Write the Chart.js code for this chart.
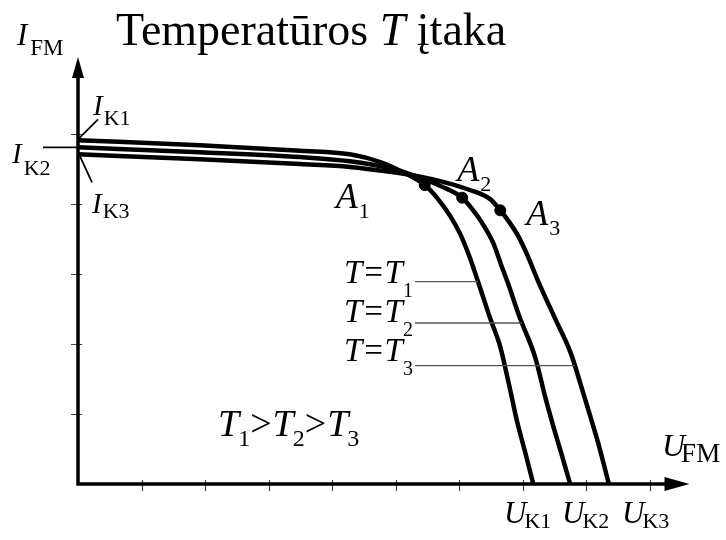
<!DOCTYPE html>
<html>
<head>
<meta charset="utf-8">
<script src="https://cdn.jsdelivr.net/npm/chart.js@4.4.1/dist/chart.umd.min.js"></script>
<style>
  html, body { margin: 0; padding: 0; background: #fff; }
  #wrap { width: 726px; height: 540px; }
</style>
</head>
<body>
<div id="wrap"><canvas id="ivChart"></canvas></div>
<script>
// I-V curves of a PV module at three temperatures, T1 > T2 > T3

const voltageT1 = [0, 1.92, 3.50, 4.28, 4.76, 5.15, 5.46, 5.67, 5.86, 6.02, 6.16, 6.30, 6.49, 6.65, 6.79, 6.91, 7.04, 7.17];
const currentT1 = [4.91, 4.84, 4.76, 4.71, 4.60, 4.44, 4.27, 4.07, 3.83, 3.57, 3.26, 2.89, 2.37, 1.96, 1.41, 0.91, 0.46, 0];

const voltageT2 = [0, 1.92, 3.50, 4.28, 4.91, 5.31, 5.70, 6.05, 6.24, 6.39, 6.54, 6.66, 6.77, 6.96, 7.20, 7.35, 7.48, 7.61, 7.75];
const currentT2 = [4.81, 4.74, 4.67, 4.61, 4.51, 4.40, 4.26, 4.09, 3.89, 3.69, 3.44, 3.14, 2.87, 2.37, 1.81, 1.27, 0.84, 0.44, 0];

const voltageT3 = [0, 1.92, 3.50, 4.28, 4.91, 5.39, 5.78, 6.17, 6.49, 6.65, 6.80, 6.94, 7.09, 7.24, 7.51, 7.76, 7.92, 8.06, 8.20, 8.36];
const currentT3 = [4.71, 4.64, 4.57, 4.53, 4.46, 4.39, 4.31, 4.20, 4.07, 3.91, 3.73, 3.53, 3.24, 2.91, 2.37, 1.87, 1.41, 0.99, 0.56, 0];

// maximum power points A1..A3
const mppVoltage = [5.46, 6.05, 6.65];
const mppCurrent = [4.27, 4.09, 3.91];
const mppNames = ['1', '2', '3'];

// current levels where the T=T_n leaders meet the curves
const leaderCurrent = [2.89, 2.30, 1.69];

const xTicks = [1, 2, 3, 4, 5, 6, 7, 8, 9];
const yTicks = [1, 2, 3, 4, 5];

const toPoints = (xs, ys) => xs.map((v, i) => ({ x: v, y: ys[i] }));
const curves = [toPoints(voltageT1, currentT1), toPoints(voltageT2, currentT2), toPoints(voltageT3, currentT3)];

const SERIF = '"Liberation Serif", "Times New Roman", serif';

// x on a curve at a given current (linear between samples)
function voltageAt(pts, cur) {
    for (let i = 1; i < pts.length; i++) {
        const a = pts[i - 1], b = pts[i];
        if ((a.y - cur) * (b.y - cur) <= 0 && a.y !== b.y) {
            return a.x + (cur - a.y) / (b.y - a.y) * (b.x - a.x);
        }
    }
    return pts[pts.length - 1].x;
}

// italic symbol followed by an upright subscript
function symbol(ctx, main, sub, x, y, size, subSize, drop, gap) {
    ctx.font = `italic ${size}px ${SERIF}`;
    ctx.fillText(main, x, y);
    const w = ctx.measureText(main).width;
    ctx.font = `${subSize}px ${SERIF}`;
    ctx.fillText(sub, x + w + gap, y + drop);
    return x + w + gap + ctx.measureText(sub).width;
}

const axesPlugin = {
    id: 'axes',
    beforeDatasetsDraw(chart) {
        const { ctx, scales: { x, y } } = chart;
        const x0 = x.getPixelForValue(0), y0 = y.getPixelForValue(0);
        const tipY = y.getPixelForValue(6.1), tipX = x.getPixelForValue(9.63);
        ctx.save();
        ctx.fillStyle = '#000';

        // tick marks
        ctx.lineWidth = 1.2;
        ctx.strokeStyle = '#444';
        ctx.beginPath();
        xTicks.forEach(t => {
            const px = Math.round(x.getPixelForValue(t)) + 0.5;
            ctx.moveTo(px, y0 - 4); ctx.lineTo(px, y0 + 7);
        });
        yTicks.forEach(t => {
            const py = Math.round(y.getPixelForValue(t)) + 0.5;
            ctx.moveTo(x0 - 7, py); ctx.lineTo(x0 + 4, py);
        });
        ctx.stroke();

        // axis lines
        ctx.strokeStyle = '#000';
        ctx.lineWidth = 3.5;
        ctx.beginPath();
        ctx.moveTo(x0, tipY + 18); ctx.lineTo(x0, y0);
        ctx.lineTo(tipX - 22, y0);
        ctx.stroke();

        // arrow heads
        ctx.beginPath();
        ctx.moveTo(x0, tipY); ctx.lineTo(x0 - 6, tipY + 21); ctx.lineTo(x0 + 6, tipY + 21); ctx.closePath();
        ctx.moveTo(tipX, y0); ctx.lineTo(tipX - 25, y0 - 7); ctx.lineTo(tipX - 25, y0 + 7); ctx.closePath();
        ctx.fill();
        ctx.restore();
    },
    afterDatasetsDraw(chart) {
        const { ctx, scales: { x, y } } = chart;
        const x0 = x.getPixelForValue(0);
        ctx.save();
        ctx.fillStyle = '#000';
        ctx.strokeStyle = '#000';
        ctx.textBaseline = 'alphabetic';

        // title
        ctx.font = `46px ${SERIF}`;
        let tx = 116;
        ctx.fillText('Temperatūros ', tx, 45);
        tx += ctx.measureText('Temperatūros ').width;
        ctx.font = `italic 46px ${SERIF}`;
        ctx.fillText('T', tx, 45);
        tx += ctx.measureText('T').width;
        ctx.font = `46px ${SERIF}`;
        ctx.fillText(' įtaka', tx, 45);

        // axis names
        symbol(ctx, 'I', 'FM', 17, 45, 31, 23, 10, 3);
        symbol(ctx, 'U', 'FM', 662, 456, 32, 27, 6, -4);

        // short-circuit currents with their pointers
        const iK = curves.map(c => y.getPixelForValue(c[0].y));
        ctx.lineWidth = 1.8;
        ctx.beginPath();
        ctx.moveTo(x0 + 1, iK[0] - 2); ctx.lineTo(x0 + 20, iK[0] - 21);
        ctx.moveTo(43, iK[1]); ctx.lineTo(x0, iK[1]);
        ctx.moveTo(x0 + 2, iK[2] + 2); ctx.lineTo(x0 + 14, iK[2] + 28);
        ctx.stroke();
        symbol(ctx, 'I', 'K1', 93, 115, 29, 22, 10, 1);
        symbol(ctx, 'I', 'K2', 12, 163, 29, 22, 12, 2);
        symbol(ctx, 'I', 'K3', 92, 213, 29, 22, 5, 1);

        // open-circuit voltages
        symbol(ctx, 'U', 'K1', 504, 523, 31, 22, 5, -2);
        symbol(ctx, 'U', 'K2', 562, 523, 31, 22, 5, -2);
        symbol(ctx, 'U', 'K3', 622, 523, 31, 22, 5, -2);

        // maximum power point labels
        const offs = [[-89, 23], [-5, -17], [26, 15]];
        mppVoltage.forEach((v, i) => {
            const px = x.getPixelForValue(v), py = y.getPixelForValue(mppCurrent[i]);
            symbol(ctx, 'A', mppNames[i], px + offs[i][0], py + offs[i][1], 36, 22, 10, 1);
        });

        // T = T_n labels and leaders to each curve
        const rows = [283, 322, 361];
        rows.forEach((base, i) => {
            const end = symbol(ctx, 'T=T', String(i + 1), 344, base, 33, 20, 14, 0);
            const ly = y.getPixelForValue(leaderCurrent[i]);
            const lx = x.getPixelForValue(voltageAt(curves[i], leaderCurrent[i]));
            ctx.strokeStyle = '#555';
            ctx.lineWidth = 1.3;
            ctx.beginPath();
            ctx.moveTo(end + 2, ly); ctx.lineTo(lx, ly);
            ctx.stroke();
        });

        // ordering of temperatures
        let ox = 218;
        ['1', '2', '3'].forEach((n, i) => {
            ox = symbol(ctx, 'T', n, ox, 436, 38, 24, 10, -1);
            if (i < 2) {
                ctx.font = `38px ${SERIF}`;
                ctx.fillText('>', ox, 436);
                ox += ctx.measureText('>').width + 1;
            }
        });
        ctx.restore();
    }
};

const lineSet = (data) => ({
    type: 'line',
    data,
    borderColor: '#000',
    borderWidth: 4.5,
    pointRadius: 0,
    cubicInterpolationMode: 'monotone',
    fill: false,
    clip: false
});

new Chart(document.getElementById('ivChart'), {
    type: 'scatter',
    data: {
        datasets: [
            lineSet(curves[0]),
            lineSet(curves[1]),
            lineSet(curves[2]),
            {
                type: 'scatter',
                data: toPoints(mppVoltage, mppCurrent),
                pointRadius: 5.5,
                pointBackgroundColor: '#000',
                pointBorderColor: '#000',
                clip: false
            }
        ]
    },
    options: {
        responsive: true,
        maintainAspectRatio: false,
        animation: false,
        layout: { padding: { left: 78, right: 38.4, top: 64, bottom: 56 } },
        scales: {
            x: { type: 'linear', min: 0, max: 9.6, display: false },
            y: { type: 'linear', min: 0, max: 6, display: false }
        },
        plugins: {
            legend: { display: false },
            tooltip: { enabled: false },
            title: { display: false }
        }
    },
    plugins: [axesPlugin]
});
</script>
</body>
</html>
